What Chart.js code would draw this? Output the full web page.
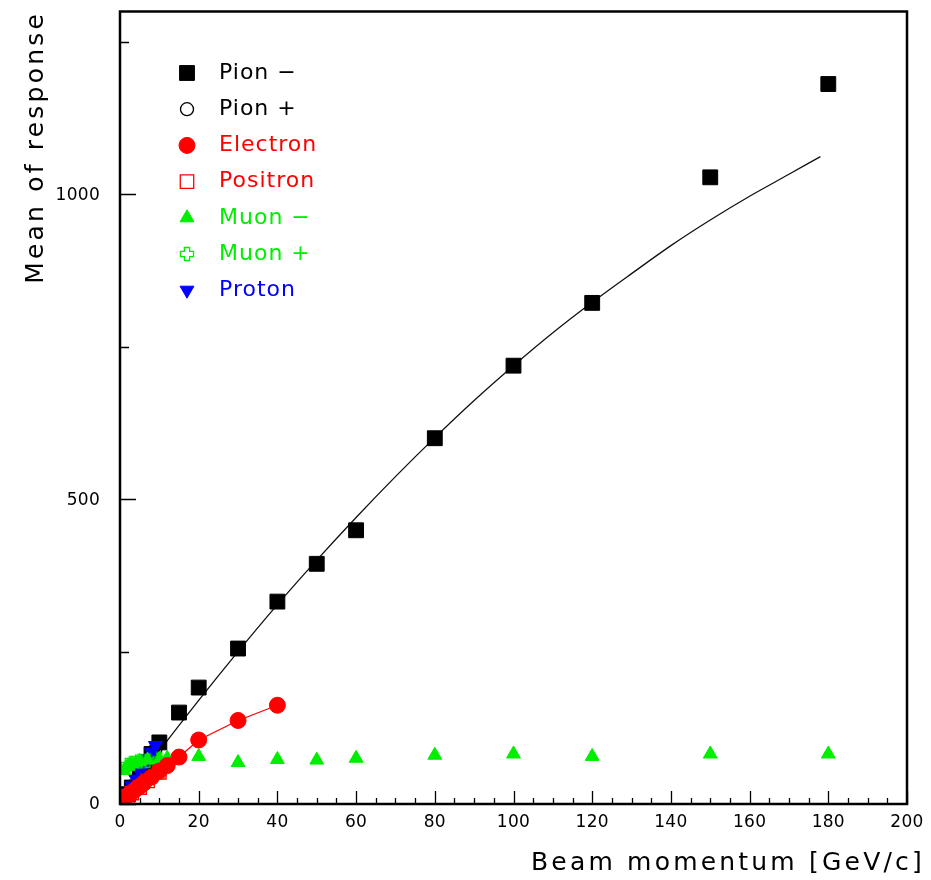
<!DOCTYPE html>
<html>
<head>
<meta charset="utf-8">
<title>Mean of response vs beam momentum</title>
<script src="https://cdn.jsdelivr.net/npm/chart.js@4"></script>
<style>
  html, body { margin: 0; padding: 0; background: #fff; }
  #wrap { width: 931px; height: 880px; }
</style>
</head>
<body>
<div id="wrap"><canvas id="resp" width="931" height="880"></canvas></div>
<script>
// measured mean response per beam particle type
const pionMinusP = [2, 3, 5, 7, 8, 10, 15, 20, 30, 40, 50, 60, 80, 100, 120, 150, 180];
const pionMinusR = [16, 27, 47, 68, 82, 101, 150, 191, 255, 332, 394, 449, 600, 719, 822, 1028, 1181];

const pionPlusP = [3, 5, 7, 9];
const pionPlusR = [29, 50, 70, 90];

const electronP = [1, 2, 3, 4, 5, 6, 8, 10, 12, 15, 20, 30, 40];
const electronR = [9, 14, 19, 24, 29, 34, 44, 54, 63, 77, 105, 137, 162];

const positronP = [1, 2, 3, 5, 7, 10];
const positronR = [7, 12, 18, 27, 38, 52];

const muonMinusP = [1, 2, 3, 4, 5, 7, 10, 12, 15, 20, 30, 40, 50, 60, 80, 100, 120, 150, 180];
const muonMinusR = [55, 62, 66, 68, 70, 72, 73, 75, 76, 78, 68, 73, 72, 75, 80, 82, 78, 82, 82];

const muonPlusP = [2, 3, 5, 7, 10];
const muonPlusR = [64, 67, 70, 71, 73];

const protonP = [2, 3, 4, 5, 6, 7, 8, 9];
const protonR = [18, 30, 41, 52, 63, 74, 85, 96];

// pion fit curve and proton fit line
const pionFitP = [1, 10, 20, 30, 40, 50, 60, 70, 80, 90, 100, 110, 120, 130, 140, 150, 160, 170, 178];
const pionFitR = [9, 87, 170, 250, 327, 400, 470, 537, 601, 662, 719, 773, 823, 870, 916, 958, 997, 1033, 1062];
const protonFitP = [0, 10];
const protonFitR = [2, 102];

const xTicks = [0, 20, 40, 60, 80, 100, 120, 140, 160, 180, 200];
const yTicks = [0, 500, 1000];

const RED = '#ff0000';
const GREEN = '#00ee00';
const BLUE = '#0000ff';

const pts = (xs, ys) => xs.map((x, i) => ({ x: x, y: ys[i] }));

// hollow plus marker for muon+
function openCross(color) {
  const c = document.createElement('canvas');
  c.width = 16; c.height = 16;
  const g = c.getContext('2d');
  const m = 8, a = 2.6, e = 6.5;
  g.beginPath();
  g.moveTo(m - a, m - e); g.lineTo(m + a, m - e); g.lineTo(m + a, m - a);
  g.lineTo(m + e, m - a); g.lineTo(m + e, m + a); g.lineTo(m + a, m + a);
  g.lineTo(m + a, m + e); g.lineTo(m - a, m + e); g.lineTo(m - a, m + a);
  g.lineTo(m - e, m + a); g.lineTo(m - e, m - a); g.lineTo(m - a, m - a);
  g.closePath();
  g.strokeStyle = color;
  g.lineWidth = 1.3;
  g.stroke();
  return c;
}

const markers = [
  { label: 'Pion \u2212', data: pts(pionMinusP, pionMinusR), pointStyle: 'rect', pointRadius: 10.5,
    backgroundColor: '#000', borderColor: '#000', borderWidth: 1, text: '#000', order: 7 },
  { label: 'Pion +', data: pts(pionPlusP, pionPlusR), pointStyle: 'circle', pointRadius: 6.5,
    backgroundColor: 'rgba(0,0,0,0)', borderColor: '#000', borderWidth: 1.3, text: '#000', order: 6 },
  { label: 'Electron', data: pts(electronP, electronR), pointStyle: 'circle', pointRadius: 8,
    backgroundColor: RED, borderColor: RED, borderWidth: 1, text: RED, order: 2,
    showLine: true, lineWidth: 1.3 },
  { label: 'Positron', data: pts(positronP, positronR), pointStyle: 'rect', pointRadius: 9.5,
    backgroundColor: 'rgba(0,0,0,0)', borderColor: RED, borderWidth: 1.3, text: RED, order: 1 },
  { label: 'Muon \u2212', data: pts(muonMinusP, muonMinusR), pointStyle: 'triangle', pointRadius: 8,
    backgroundColor: GREEN, borderColor: GREEN, borderWidth: 1, text: GREEN, order: 4 },
  { label: 'Muon +', data: pts(muonPlusP, muonPlusR), pointStyle: openCross(GREEN), pointRadius: 7,
    backgroundColor: 'rgba(0,0,0,0)', borderColor: GREEN, borderWidth: 1.3, text: GREEN, order: 3 },
  { label: 'Proton', data: pts(protonP, protonR), pointStyle: 'triangle', pointRadius: 8, rotation: 180,
    backgroundColor: BLUE, borderColor: BLUE, borderWidth: 1, text: BLUE, order: 5 }
];

const datasets = markers.map(m => ({
  label: m.label,
  data: m.data,
  pointStyle: m.pointStyle,
  pointRadius: m.pointRadius,
  pointRotation: m.rotation || 0,
  pointBackgroundColor: m.backgroundColor,
  pointBorderColor: m.borderColor,
  pointBorderWidth: m.borderWidth,
  borderColor: m.borderColor,
  borderWidth: m.lineWidth || 0,
  showLine: !!m.showLine,
  order: m.order
}));

datasets.push({
  label: 'pion fit', data: pts(pionFitP, pionFitR), showLine: true, pointRadius: 0,
  borderColor: '#111', borderWidth: 1.3, tension: 0.3, order: 9
});
datasets.push({
  label: 'proton fit', data: pts(protonFitP, protonFitR), showLine: true, pointRadius: 0,
  borderColor: BLUE, borderWidth: 1.2, order: 4.5
});

const FONT = '"DejaVu Sans", "Liberation Sans", sans-serif';

function text(ctx, str, x, y, size, spacing, align, color) {
  ctx.font = size + 'px ' + FONT;
  ctx.letterSpacing = spacing + 'px';
  ctx.textAlign = align;
  ctx.textBaseline = 'middle';
  ctx.fillStyle = color || '#000';
  ctx.fillText(str, x, y);
}

const framePlugin = {
  id: 'frame',
  afterDraw(chart) {
    const { ctx, chartArea: a, scales } = chart;
    const xs = scales.x, ys = scales.y;
    ctx.save();

    // frame
    ctx.strokeStyle = '#000';
    ctx.lineWidth = 2.5;
    ctx.strokeRect(a.left, a.top, a.right - a.left, a.bottom - a.top);

    // inward ticks on the bottom axis
    ctx.lineWidth = 1.3;
    ctx.beginPath();
    for (let v = 0; v <= 200; v += 5) {
      const px = Math.round(xs.getPixelForValue(v)) + 0.5;
      const len = v % 20 === 0 ? 13 : 6;
      ctx.moveTo(px, a.bottom);
      ctx.lineTo(px, a.bottom - len);
    }
    // inward ticks on the left axis
    for (let v = 0; v <= 1250; v += 250) {
      const py = Math.round(ys.getPixelForValue(v)) + 0.5;
      const len = v % 500 === 0 ? 16 : 9;
      ctx.moveTo(a.left, py);
      ctx.lineTo(a.left + len, py);
    }
    ctx.stroke();

    // tick labels
    xTicks.forEach(v => text(ctx, String(v), xs.getPixelForValue(v), a.bottom + 19, 17, 0.3, 'center'));
    yTicks.forEach(v => text(ctx, String(v), a.left - 20, ys.getPixelForValue(v) + 1, 17, 0.3, 'right'));

    // axis titles
    text(ctx, 'Beam momentum [GeV/c]', 925, 863, 25, 3.2, 'right');
    ctx.save();
    ctx.translate(36, 11);
    ctx.rotate(-Math.PI / 2);
    text(ctx, 'Mean of response', 0, 0, 25, 3.2, 'right');
    ctx.restore();

    // legend
    markers.forEach((m, i) => {
      const cy = 73 + i * 36.2;
      ctx.fillStyle = m.backgroundColor;
      ctx.strokeStyle = m.borderColor;
      ctx.lineWidth = m.borderWidth;
      Chart.helpers.drawPoint(ctx, {
        pointStyle: m.pointStyle,
        radius: m.pointRadius,
        rotation: m.rotation || 0,
        borderWidth: m.borderWidth
      }, 187, cy);
      text(ctx, m.label, 219, cy, 22, 1, 'left', m.text);
    });

    ctx.restore();
  }
};

new Chart(document.getElementById('resp'), {
  type: 'scatter',
  data: { datasets: datasets },
  options: {
    responsive: false,
    animation: false,
    layout: { padding: { left: 120, top: 9, right: 24, bottom: 76 } },
    plugins: { legend: { display: false }, tooltip: { enabled: false } },
    scales: {
      x: { type: 'linear', min: 0, max: 200, display: false },
      y: { type: 'linear', min: 0, max: 1300, display: false }
    }
  },
  plugins: [framePlugin]
});
</script>
</body>
</html>
